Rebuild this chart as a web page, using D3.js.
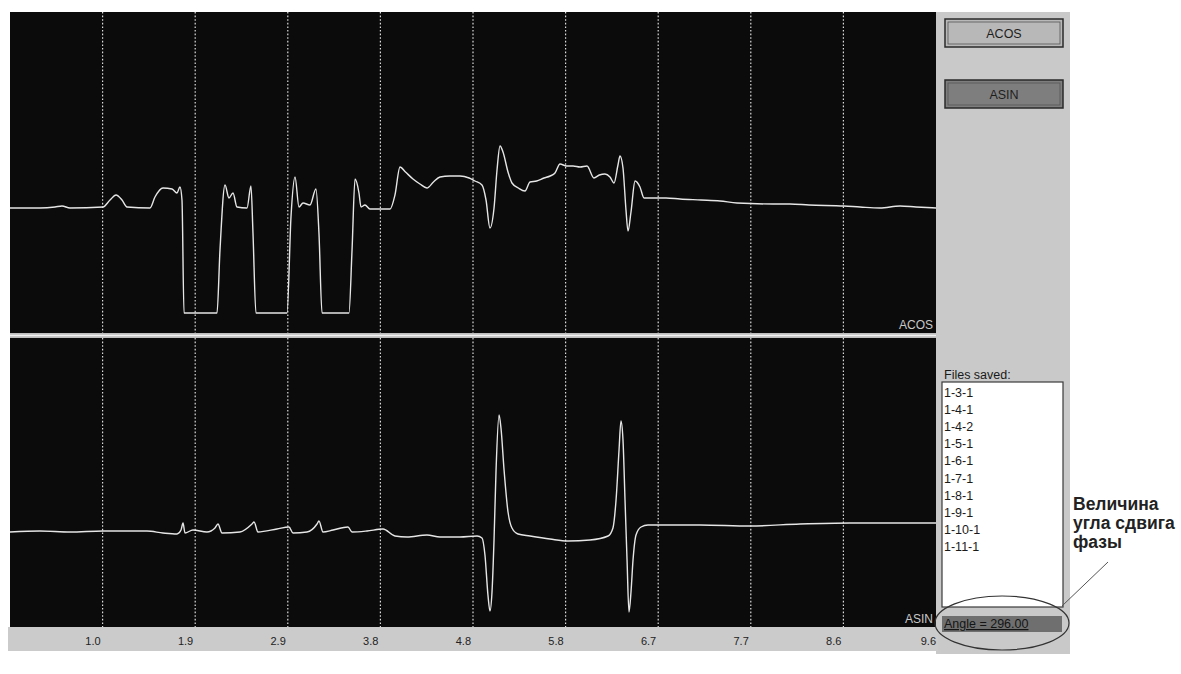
<!DOCTYPE html>
<html><head><meta charset="utf-8">
<script src="https://cdn.jsdelivr.net/npm/d3@7/dist/d3.min.js"></script>
<style>html,body{margin:0;padding:0;background:#fff;}svg{display:block;font-family:"Liberation Sans",Arial,sans-serif;}</style>
</head><body><svg id="c" width="1181" height="674"></svg>
<script>
// ---- data (time in s, signal in arbitrary units) ----
const tickValues = [0.96,1.92,2.88,3.84,4.80,5.76,6.72,7.68,8.64,9.60];
const tickLabels = ["1.0","1.9","2.9","3.8","4.8","5.8","6.7","7.7","8.6","9.6"];
const acosSeries = [
 [0,0],[0.311,0],[0.467,0.01],[0.539,0.02],[0.622,0],[0.964,0.01],[1.037,0.08],[1.099,0.13],[1.161,0.08],[1.213,0.01],
 [1.451,0],[1.503,0.11],[1.586,0.20],[1.680,0.19],[1.731,0.15],[1.762,0.21],[1.783,0.08],[1.804,-1.05],
 [2.146,-1.05],[2.177,-0.42],[2.229,0.23],[2.270,0.10],[2.312,0.15],[2.353,0.01],[2.457,0],[2.498,0.22],[2.519,-0.25],[2.550,-1.05],
 [2.872,-1.05],[2.913,-0.09],[2.955,0.31],[2.996,0.01],[3.038,0.05],[3.110,0.03],[3.172,0.19],[3.203,-0.25],[3.235,-1.05],
 [3.514,-1.05],[3.546,-0.42],[3.577,0.29],[3.618,0.15],[3.639,0.01],[3.680,0.03],[3.732,-0.01],[3.940,-0.01],
 [3.991,0.13],[4.043,0.41],[4.100,0.36],[4.178,0.29],[4.250,0.24],[4.323,0.20],[4.390,0.26],[4.458,0.31],[4.560,0.32],[4.665,0.32],[4.760,0.30],[4.821,0.27],[4.893,0.23],[4.935,0.08],
 [4.976,-0.20],[5.018,0],[5.049,0.38],[5.080,0.62],[5.111,0.56],[5.163,0.36],[5.204,0.25],[5.270,0.20],[5.339,0.17],[5.391,0.26],[5.460,0.27],
 [5.536,0.30],[5.600,0.32],[5.650,0.35],[5.702,0.44],[5.770,0.42],[5.837,0.42],[5.910,0.41],[5.982,0.42],[6.054,0.30],[6.110,0.33],[6.168,0.34],[6.220,0.31],[6.262,0.25],[6.303,0.43],
 [6.324,0.52],[6.355,0.40],[6.386,-0.02],[6.407,-0.23],[6.438,-0.04],[6.480,0.27],[6.531,0.21],[6.573,0.10],[6.801,0.10],
 [6.946,0.09],[7.164,0.08],[7.361,0.07],[7.537,0.05],[7.910,0.04],[8.086,0.04],[8.283,0.03],[8.646,0.02],[8.812,0.01],
 [9.019,0],[9.227,0.02],[9.393,0.01],[9.600,0]
];
const asinSeries = [
 [0,0],[0.311,0.01],[0.622,0],[0.964,0.01],[1.420,0.01],[1.586,-0.01],[1.731,-0.02],[1.773,0.02],[1.794,0.09],[1.814,-0.01],
 [1.897,0.02],[2.042,0],[2.125,0.04],[2.156,0.08],[2.198,-0.01],[2.384,0],[2.509,0.08],[2.530,0.10],[2.571,0],
 [2.768,0.03],[2.892,0.05],[2.934,-0.01],[3.079,0],[3.183,0.08],[3.203,0.11],[3.245,0],[3.349,0.02],[3.504,0.05],
 [3.546,0],[3.701,0.01],[3.867,0.03],[3.991,-0.04],[4.116,-0.05],[4.323,-0.03],[4.458,-0.05],[4.665,-0.05],[4.842,-0.04],
 [4.893,-0.06],[4.924,-0.23],[4.955,-0.63],[4.976,-0.79],[4.997,-0.60],[5.018,-0.08],[5.039,0.62],[5.070,1.17],[5.090,1.04],
 [5.122,0.62],[5.163,0.20],[5.204,0.04],[5.267,-0.02],[5.391,-0.04],[5.598,-0.07],[5.785,-0.09],[6.013,-0.08],[6.200,-0.04],
 [6.251,0.04],[6.283,0.32],[6.314,0.82],[6.334,1.11],[6.355,0.92],[6.376,0.32],[6.397,-0.28],[6.417,-0.80],[6.438,-0.60],
 [6.459,-0.28],[6.490,-0.03],[6.542,0.05],[6.614,0.07],[7.153,0.07],[7.672,0.06],[8.190,0.08],[8.708,0.09],[9.227,0.09],[9.600,0.09]
];
const filesSaved = ["1-3-1","1-4-1","1-4-2","1-5-1","1-6-1","1-7-1","1-8-1","1-9-1","1-10-1","1-11-1"];
const angleText = "Angle = 296.00";
const noteLines = ["Величина","угла сдвига","фазы"];

// ---- layout ----
const svg = d3.select("#c");
const L = 10, R = 936;
const topP = {y0: 12, y1: 333}, botP = {y0: 338, y1: 627};
const x = d3.scaleLinear().domain([0, 9.6]).range([L, R]);
const yTop = d3.scaleLinear().domain([-1.25, 1.96]).range([topP.y1, topP.y0]);
const yBot = d3.scaleLinear().domain([-0.95, 1.94]).range([botP.y1, botP.y0]);

// right panel & axis bar
svg.append("rect").attr("x", 936).attr("y", 12).attr("width", 134).attr("height", 642).attr("fill", "#c9c9c9");
svg.append("rect").attr("x", 8).attr("y", 627).attr("width", 930).attr("height", 24).attr("fill", "#cbcbcb");

function panel(p, yS, data, label) {
  const g = svg.append("g");
  g.append("rect").attr("x", L).attr("y", p.y0).attr("width", R - L).attr("height", p.y1 - p.y0).attr("fill", "#0b0b0b");
  g.selectAll("line.grid").data(tickValues.slice(0, 9)).join("line")
    .attr("x1", d => x(d)).attr("x2", d => x(d)).attr("y1", p.y0).attr("y2", p.y1)
    .attr("stroke", "#dcdcdc").attr("stroke-width", 1.2).attr("stroke-dasharray", "1.6,2");
  g.append("path").datum(data)
    .attr("d", d3.line().curve(d3.curveMonotoneX).x(d => x(d[0])).y(d => yS(d[1])))
    .attr("fill", "none").attr("stroke", "#e6e6e6").attr("stroke-width", 1.4).attr("stroke-linejoin", "round");
  g.append("text").attr("x", R - 3).attr("y", p.y1 - 4).attr("text-anchor", "end")
    .attr("font-size", 12).attr("fill", "#c8c8c8").text(label);
}
panel(topP, yTop, acosSeries, "ACOS");
panel(botP, yBot, asinSeries, "ASIN");

// separator
svg.append("rect").attr("x", L).attr("y", 333).attr("width", R - L).attr("height", 5).attr("fill", "#bdbdbd");
svg.append("line").attr("x1", L).attr("x2", R).attr("y1", 335.5).attr("y2", 335.5).attr("stroke", "#f2f2f2").attr("stroke-width", 1.5);

// x axis labels
svg.append("g").selectAll("text").data(tickValues).join("text")
  .attr("x", (d, i) => x(d) - (i === 9 ? 0 : 2)).attr("y", 645).attr("text-anchor", "end")
  .attr("font-size", 11).attr("fill", "#222").text((d, i) => tickLabels[i]);

// buttons
function button(y, label, fill) {
  svg.append("rect").attr("x", 945).attr("y", y).attr("width", 118).attr("height", 28)
    .attr("fill", fill).attr("stroke", "#2a2a2a").attr("stroke-width", 1.5);
  svg.append("rect").attr("x", 948).attr("y", y + 3).attr("width", 112).attr("height", 22)
    .attr("fill", "none").attr("stroke", "#555").attr("stroke-width", 0.8);
  svg.append("text").attr("x", 1004).attr("y", y + 19).attr("text-anchor", "middle")
    .attr("font-size", 12.5).attr("fill", "#1e1e1e").text(label);
}
button(19, "ACOS", "#b8b8b8");
button(80, "ASIN", "#7e7e7e");

// files saved
svg.append("text").attr("x", 944).attr("y", 379).attr("font-size", 12.5).attr("fill", "#1a1a1a").text("Files saved:");
svg.append("rect").attr("x", 942).attr("y", 382).attr("width", 121).attr("height", 225)
  .attr("fill", "#fff").attr("stroke", "#3a3a3a").attr("stroke-width", 1.2);
svg.append("g").selectAll("text").data(filesSaved).join("text")
  .attr("x", 944).attr("y", (d, i) => 397 + i * 17.1).attr("font-size", 12.5).attr("fill", "#1a1a1a").text(d => d);

// angle box
svg.append("rect").attr("x", 942).attr("y", 616).attr("width", 120).attr("height", 16).attr("fill", "#6f6f6f");
svg.append("text").attr("x", 944).attr("y", 628).attr("font-size", 12.5).attr("fill", "#151515")
  .attr("text-decoration", "underline").text(angleText);

// ellipse + leader
svg.append("ellipse").attr("cx", 1002).attr("cy", 623).attr("rx", 67).attr("ry", 27)
  .attr("fill", "none").attr("stroke", "#333").attr("stroke-width", 1.2);
svg.append("line").attr("x1", 1062).attr("y1", 606).attr("x2", 1108).attr("y2", 562)
  .attr("stroke", "#555").attr("stroke-width", 1);

// annotation
svg.append("g").selectAll("text").data(noteLines).join("text")
  .attr("x", 1073).attr("y", (d, i) => 510 + i * 19).attr("font-size", 17.5).attr("font-weight", "bold")
  .attr("fill", "#222").text(d => d);
</script></body></html>
